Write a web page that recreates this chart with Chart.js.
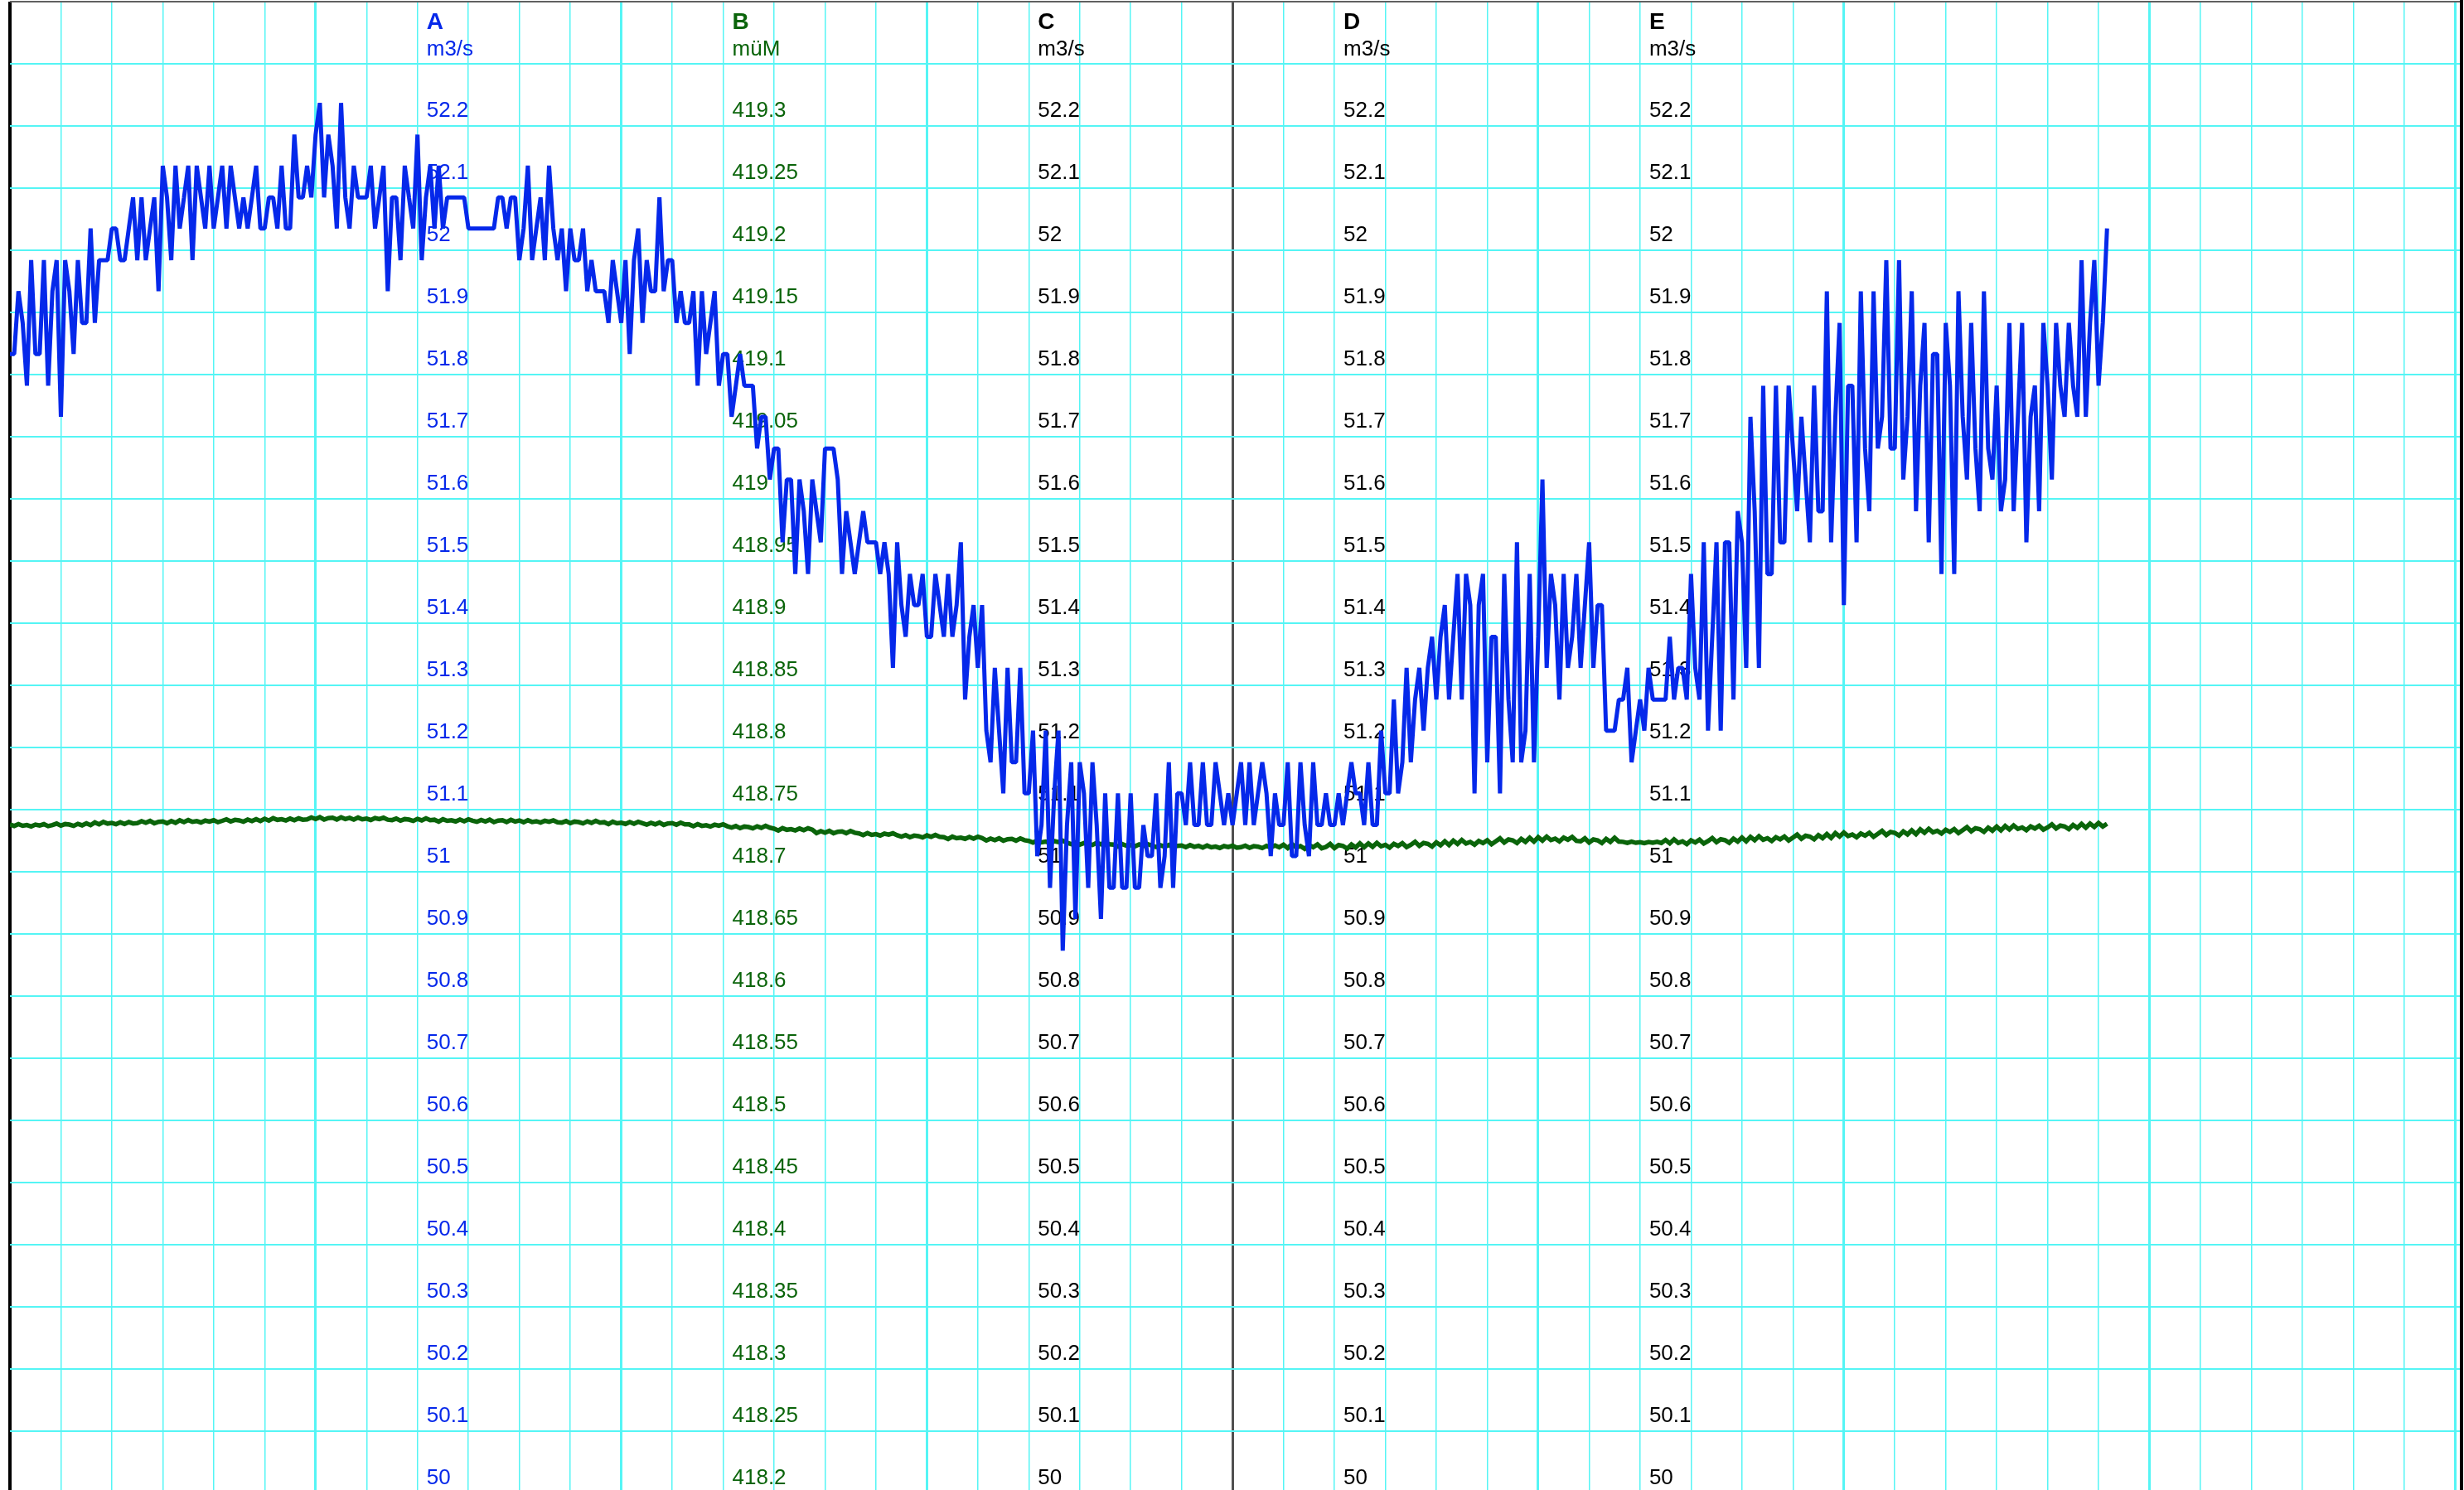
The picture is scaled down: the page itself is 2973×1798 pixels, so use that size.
<!DOCTYPE html>
<html>
<head>
<meta charset="utf-8">
<script src="https://cdn.jsdelivr.net/npm/chart.js@4.4.1/dist/chart.umd.min.js"></script>
<style>
    html, body { margin: 0; padding: 0; background: #fff; overflow: hidden; }
    #wrap { width: 2973px; height: 1798px; position: relative; }
</style>
</head>
<body>
<div id="wrap"><canvas id="chart"></canvas></div>
<script>
// series A: discharge, m3/s, one value every 5 minutes
const flow = [
    51.833, 51.833, 51.934, 51.883, 51.782, 51.984, 51.833, 51.833, 51.984, 51.782,
    51.934, 51.984, 51.732, 51.984, 51.934, 51.833, 51.984, 51.883, 51.883, 52.035,
    51.883, 51.984, 51.984, 51.984, 52.035, 52.035, 51.984, 51.984, 52.035, 52.085,
    51.984, 52.085, 51.984, 52.035, 52.085, 51.934, 52.136, 52.085, 51.984, 52.136,
    52.035, 52.085, 52.136, 51.984, 52.136, 52.085, 52.035, 52.136, 52.035, 52.085,
    52.136, 52.035, 52.136, 52.085, 52.035, 52.085, 52.035, 52.085, 52.136, 52.035,
    52.035, 52.085, 52.085, 52.035, 52.136, 52.035, 52.035, 52.186, 52.085, 52.085,
    52.136, 52.085, 52.186, 52.237, 52.085, 52.186, 52.136, 52.035, 52.237, 52.085,
    52.035, 52.136, 52.085, 52.085, 52.085, 52.136, 52.035, 52.085, 52.136, 51.934,
    52.085, 52.085, 51.984, 52.136, 52.085, 52.035, 52.186, 51.984, 52.085, 52.136,
    52.035, 52.136, 52.035, 52.085, 52.085, 52.085, 52.085, 52.085, 52.035, 52.035,
    52.035, 52.035, 52.035, 52.035, 52.035, 52.085, 52.085, 52.035, 52.085, 52.085,
    51.984, 52.035, 52.136, 51.984, 52.035, 52.085, 51.984, 52.136, 52.035, 51.984,
    52.035, 51.934, 52.035, 51.984, 51.984, 52.035, 51.934, 51.984, 51.934, 51.934,
    51.934, 51.883, 51.984, 51.934, 51.883, 51.984, 51.833, 51.984, 52.035, 51.883,
    51.984, 51.934, 51.934, 52.085, 51.934, 51.984, 51.984, 51.883, 51.934, 51.883,
    51.883, 51.934, 51.782, 51.934, 51.833, 51.883, 51.934, 51.782, 51.833, 51.833,
    51.732, 51.782, 51.833, 51.782, 51.782, 51.782, 51.681, 51.732, 51.732, 51.631,
    51.681, 51.681, 51.530, 51.631, 51.631, 51.479, 51.631, 51.580, 51.479, 51.631,
    51.580, 51.530, 51.681, 51.681, 51.681, 51.631, 51.479, 51.580, 51.530, 51.479,
    51.530, 51.580, 51.530, 51.530, 51.530, 51.479, 51.530, 51.479, 51.328, 51.530,
    51.429, 51.378, 51.479, 51.429, 51.429, 51.479, 51.378, 51.378, 51.479, 51.429,
    51.378, 51.479, 51.378, 51.429, 51.530, 51.277, 51.378, 51.429, 51.328, 51.429,
    51.227, 51.176, 51.328, 51.227, 51.126, 51.328, 51.176, 51.176, 51.328, 51.126,
    51.126, 51.227, 51.025, 51.075, 51.227, 50.974, 51.126, 51.227, 50.873, 51.075,
    51.176, 50.924, 51.176, 51.126, 50.974, 51.176, 51.075, 50.924, 51.126, 50.974,
    50.974, 51.126, 50.974, 50.974, 51.126, 50.974, 50.974, 51.075, 51.025, 51.025,
    51.126, 50.974, 51.025, 51.176, 50.974, 51.126, 51.126, 51.075, 51.176, 51.075,
    51.075, 51.176, 51.075, 51.075, 51.176, 51.126, 51.075, 51.126, 51.075, 51.126,
    51.176, 51.075, 51.176, 51.075, 51.126, 51.176, 51.126, 51.025, 51.126, 51.075,
    51.075, 51.176, 51.025, 51.025, 51.176, 51.075, 51.025, 51.176, 51.075, 51.075,
    51.126, 51.075, 51.075, 51.126, 51.075, 51.126, 51.176, 51.126, 51.126, 51.075,
    51.176, 51.075, 51.075, 51.227, 51.126, 51.126, 51.277, 51.126, 51.176, 51.328,
    51.176, 51.277, 51.328, 51.227, 51.328, 51.378, 51.277, 51.378, 51.429, 51.277,
    51.378, 51.479, 51.277, 51.479, 51.429, 51.126, 51.429, 51.479, 51.176, 51.378,
    51.378, 51.126, 51.479, 51.277, 51.176, 51.530, 51.176, 51.227, 51.479, 51.176,
    51.378, 51.631, 51.328, 51.479, 51.429, 51.277, 51.479, 51.328, 51.378, 51.479,
    51.328, 51.429, 51.530, 51.328, 51.429, 51.429, 51.227, 51.227, 51.227, 51.277,
    51.277, 51.328, 51.176, 51.227, 51.277, 51.227, 51.328, 51.277, 51.277, 51.277,
    51.277, 51.378, 51.277, 51.328, 51.328, 51.277, 51.479, 51.328, 51.277, 51.530,
    51.227, 51.378, 51.530, 51.227, 51.530, 51.530, 51.277, 51.580, 51.530, 51.328,
    51.732, 51.580, 51.328, 51.782, 51.479, 51.479, 51.782, 51.530, 51.530, 51.782,
    51.681, 51.580, 51.732, 51.631, 51.530, 51.782, 51.580, 51.580, 51.934, 51.530,
    51.732, 51.883, 51.429, 51.782, 51.782, 51.530, 51.934, 51.681, 51.580, 51.934,
    51.681, 51.732, 51.984, 51.681, 51.681, 51.984, 51.631, 51.732, 51.934, 51.580,
    51.782, 51.883, 51.530, 51.833, 51.833, 51.479, 51.883, 51.782, 51.479, 51.934,
    51.732, 51.631, 51.883, 51.681, 51.580, 51.934, 51.681, 51.631, 51.782, 51.580,
    51.631, 51.883, 51.580, 51.732, 51.883, 51.530, 51.732, 51.782, 51.580, 51.883,
    51.782, 51.631, 51.883, 51.782, 51.732, 51.883, 51.782, 51.732, 51.984, 51.732,
    51.883, 51.984, 51.782, 51.883, 52.035
];

// series B: water level, müM, same timestamps
const level = [
    418.7381, 418.7367, 418.7383, 418.7369, 418.7375, 418.7364, 418.7379, 418.7371, 418.7382, 418.7366,
    418.7375, 418.7387, 418.7370, 418.7383, 418.7379, 418.7368, 418.7385, 418.7373, 418.7389, 418.7374,
    418.7396, 418.7381, 418.7400, 418.7387, 418.7392, 418.7382, 418.7397, 418.7384, 418.7399, 418.7388,
    418.7391, 418.7406, 418.7394, 418.7408, 418.7389, 418.7401, 418.7404, 418.7390, 418.7407, 418.7393,
    418.7413, 418.7399, 418.7415, 418.7401, 418.7407, 418.7396, 418.7411, 418.7403, 418.7414, 418.7398,
    418.7409, 418.7421, 418.7404, 418.7417, 418.7413, 418.7402, 418.7419, 418.7407, 418.7423, 418.7408,
    418.7426, 418.7411, 418.7430, 418.7417, 418.7422, 418.7412, 418.7427, 418.7414, 418.7429, 418.7418,
    418.7421, 418.7436, 418.7424, 418.7438, 418.7419, 418.7431, 418.7434, 418.7420, 418.7437, 418.7423,
    418.7433, 418.7419, 418.7435, 418.7421, 418.7427, 418.7416, 418.7431, 418.7423, 418.7434, 418.7418,
    418.7415, 418.7427, 418.7410, 418.7423, 418.7419, 418.7408, 418.7425, 418.7413, 418.7429, 418.7414,
    418.7418, 418.7403, 418.7422, 418.7409, 418.7414, 418.7404, 418.7419, 418.7406, 418.7421, 418.7410,
    418.7401, 418.7416, 418.7404, 418.7418, 418.7399, 418.7411, 418.7414, 418.7400, 418.7417, 418.7403,
    418.7412, 418.7398, 418.7414, 418.7400, 418.7406, 418.7395, 418.7410, 418.7402, 418.7413, 418.7397,
    418.7395, 418.7407, 418.7390, 418.7403, 418.7399, 418.7388, 418.7405, 418.7393, 418.7409, 418.7394,
    418.7398, 418.7383, 418.7402, 418.7389, 418.7394, 418.7384, 418.7399, 418.7386, 418.7401, 418.7390,
    418.7378, 418.7393, 418.7381, 418.7395, 418.7376, 418.7388, 418.7391, 418.7377, 418.7394, 418.7380,
    418.7380, 418.7366, 418.7382, 418.7368, 418.7374, 418.7363, 418.7378, 418.7370, 418.7381, 418.7365,
    418.7355, 418.7367, 418.7350, 418.7363, 418.7359, 418.7348, 418.7365, 418.7353, 418.7369, 418.7354,
    418.7346, 418.7331, 418.7350, 418.7337, 418.7342, 418.7332, 418.7347, 418.7334, 418.7349, 418.7338,
    418.7311, 418.7326, 418.7314, 418.7328, 418.7309, 418.7321, 418.7324, 418.7310, 418.7327, 418.7313,
    418.7308, 418.7294, 418.7310, 418.7296, 418.7302, 418.7291, 418.7306, 418.7298, 418.7309, 418.7293,
    418.7282, 418.7294, 418.7277, 418.7290, 418.7286, 418.7275, 418.7292, 418.7280, 418.7296, 418.7281,
    418.7278, 418.7263, 418.7282, 418.7269, 418.7274, 418.7264, 418.7279, 418.7266, 418.7281, 418.7270,
    418.7251, 418.7266, 418.7254, 418.7268, 418.7249, 418.7261, 418.7264, 418.7250, 418.7267, 418.7253,
    418.7248, 418.7234, 418.7250, 418.7236, 418.7242, 418.7231, 418.7246, 418.7238, 418.7249, 418.7233,
    418.7222, 418.7234, 418.7217, 418.7230, 418.7226, 418.7215, 418.7232, 418.7220, 418.7236, 418.7221,
    418.7218, 418.7203, 418.7222, 418.7209, 418.7214, 418.7204, 418.7219, 418.7206, 418.7221, 418.7210,
    418.7198, 418.7213, 418.7201, 418.7215, 418.7196, 418.7208, 418.7211, 418.7197, 418.7214, 418.7200,
    418.7208, 418.7194, 418.7210, 418.7196, 418.7202, 418.7191, 418.7206, 418.7198, 418.7209, 418.7193,
    418.7197, 418.7209, 418.7192, 418.7205, 418.7201, 418.7190, 418.7207, 418.7195, 418.7211, 418.7196,
    418.7217, 418.7190, 418.7222, 418.7194, 418.7206, 418.7184, 418.7214, 418.7197, 418.7219, 418.7188,
    418.7199, 418.7223, 418.7190, 418.7214, 418.7207, 418.7185, 418.7219, 418.7195, 418.7227, 418.7197,
    418.7227, 418.7200, 418.7232, 418.7204, 418.7216, 418.7194, 418.7224, 418.7207, 418.7229, 418.7198,
    418.7216, 418.7240, 418.7207, 418.7231, 418.7224, 418.7202, 418.7236, 418.7212, 418.7244, 418.7214,
    418.7250, 418.7223, 418.7255, 418.7227, 418.7239, 418.7217, 418.7247, 418.7230, 418.7252, 418.7221,
    418.7244, 418.7268, 418.7235, 418.7259, 418.7252, 418.7230, 418.7264, 418.7240, 418.7272, 418.7242,
    418.7277, 418.7250, 418.7282, 418.7254, 418.7266, 418.7244, 418.7274, 418.7257, 418.7279, 418.7248,
    418.7244, 418.7268, 418.7235, 418.7259, 418.7252, 418.7230, 418.7264, 418.7240, 418.7272, 418.7242,
    418.7240, 418.7231, 418.7241, 418.7232, 418.7237, 418.7230, 418.7239, 418.7233, 418.7240, 418.7231,
    418.7255, 418.7228, 418.7260, 418.7232, 418.7244, 418.7222, 418.7252, 418.7235, 418.7257, 418.7226,
    418.7246, 418.7270, 418.7237, 418.7261, 418.7254, 418.7232, 418.7266, 418.7242, 418.7274, 418.7244,
    418.7280, 418.7253, 418.7285, 418.7257, 418.7269, 418.7247, 418.7277, 418.7260, 418.7282, 418.7251,
    418.7274, 418.7298, 418.7265, 418.7289, 418.7282, 418.7260, 418.7294, 418.7270, 418.7302, 418.7272,
    418.7310, 418.7283, 418.7315, 418.7287, 418.7299, 418.7277, 418.7307, 418.7290, 418.7312, 418.7281,
    418.7304, 418.7328, 418.7295, 418.7319, 418.7312, 418.7290, 418.7324, 418.7300, 418.7332, 418.7302,
    418.7340, 418.7313, 418.7345, 418.7317, 418.7329, 418.7307, 418.7337, 418.7320, 418.7342, 418.7311,
    418.7334, 418.7358, 418.7325, 418.7349, 418.7342, 418.7320, 418.7354, 418.7330, 418.7362, 418.7332,
    418.7367, 418.7340, 418.7372, 418.7344, 418.7356, 418.7334, 418.7364, 418.7347, 418.7369, 418.7338,
    418.7356, 418.7380, 418.7347, 418.7371, 418.7364, 418.7342, 418.7376, 418.7352, 418.7384, 418.7354,
    418.7387, 418.7360, 418.7392, 418.7364, 418.7386
];

// tick labels printed inside the plot
const flowTicks = [52.2, 52.1, 52, 51.9, 51.8, 51.7, 51.6, 51.5, 51.4, 51.3, 51.2, 51.1, 51,
    50.9, 50.8, 50.7, 50.6, 50.5, 50.4, 50.3, 50.2, 50.1, 50];
const levelTicks = [419.3, 419.25, 419.2, 419.15, 419.1, 419.05, 419, 418.95, 418.9, 418.85, 418.8,
    418.75, 418.7, 418.65, 418.6, 418.55, 418.5, 418.45, 418.4, 418.35, 418.3, 418.25, 418.2];
const axisNames = ['A', 'B', 'C', 'D', 'E'];
const axisUnits = ['m3/s', 'müM', 'm3/s', 'm3/s', 'm3/s'];

const STEP_MIN = 5;
const minutes = flow.map((_, i) => i * STEP_MIN);

const BLUE = '#0528ea';
const GREEN = '#0a640a';
const GRID = 'rgb(85, 245, 245)';
const FONT = '"Liberation Sans", Arial, Helvetica, sans-serif';

// axis captions and tick labels drawn inside the plot, in columns of 6 hours
const innerAxes = {
    id: 'innerAxes',
    beforeDatasetsDraw(chart) {
        const { ctx, scales } = chart;
        ctx.save();
        ctx.textAlign = 'left';
        ctx.textBaseline = 'alphabetic';
        axisNames.forEach((name, j) => {
            const left = scales.x.getPixelForValue(480 + j * 360) + 11;
            const isLevel = j === 1;
            const scale = isLevel ? scales.yB : scales.yA;
            const ticks = isLevel ? levelTicks : flowTicks;
            ctx.fillStyle = j === 0 ? BLUE : isLevel ? GREEN : '#000';

            ctx.font = `bold 28px ${FONT}`;
            ctx.fillText(name, left, 35);
            ctx.font = `26px ${FONT}`;
            ctx.fillText(axisUnits[j], left, 67);
            ticks.forEach(v => {
                ctx.fillText(String(v), left, scale.getPixelForValue(v) - 11);
            });
        });
        ctx.restore();
    }
};

new Chart(document.getElementById('chart'), {
    type: 'line',
    data: {
        labels: minutes,
        datasets: [
            {
                label: 'A',
                data: flow,
                yAxisID: 'yA',
                borderColor: BLUE,
                borderWidth: 5,
                borderJoinStyle: 'bevel',
                pointRadius: 0,
                tension: 0
            },
            {
                label: 'B',
                data: level,
                yAxisID: 'yB',
                borderColor: GREEN,
                borderWidth: 5.5,
                pointRadius: 0,
                tension: 0
            }
        ]
    },
    options: {
        responsive: true,
        maintainAspectRatio: false,
        animation: false,
        events: [],
        layout: { padding: { left: 12, top: 2, right: 3, bottom: 0 } },
        plugins: {
            legend: { display: false },
            tooltip: { enabled: false }
        },
        scales: {
            x: {
                type: 'linear',
                position: 'top',
                min: 0,
                max: 2887.5,
                ticks: { display: false, stepSize: 60, includeBounds: false },
                border: { display: false },
                grid: {
                    drawTicks: false,
                    color: ctx => {
                        const v = ctx.tick ? ctx.tick.value : -1;
                        if (v === 0) return '#000';
                        if (v === 1440) return '#505050';
                        return GRID;
                    },
                    lineWidth: ctx => {
                        const v = ctx.tick ? ctx.tick.value : -1;
                        if (v === 0) return 4;
                        return v % 360 === 0 ? 3 : 1.5;
                    }
                }
            },
            yA: {
                type: 'linear',
                position: 'left',
                min: 50.005,
                max: 52.4,
                ticks: { display: false, stepSize: 0.1, includeBounds: false },
                border: { display: false },
                grid: {
                    drawTicks: false,
                    color: ctx => (ctx.tick && ctx.tick.value >= 52.4 ? '#606060' : GRID),
                    lineWidth: 2
                }
            },
            yB: {
                type: 'linear',
                position: 'right',
                min: 418.2025,
                max: 419.4,
                ticks: { display: false },
                grid: { display: false, drawTicks: false },
                border: { display: true, color: '#000', width: 4 }
            }
        }
    },
    plugins: [innerAxes]
});
</script>
</body>
</html>
